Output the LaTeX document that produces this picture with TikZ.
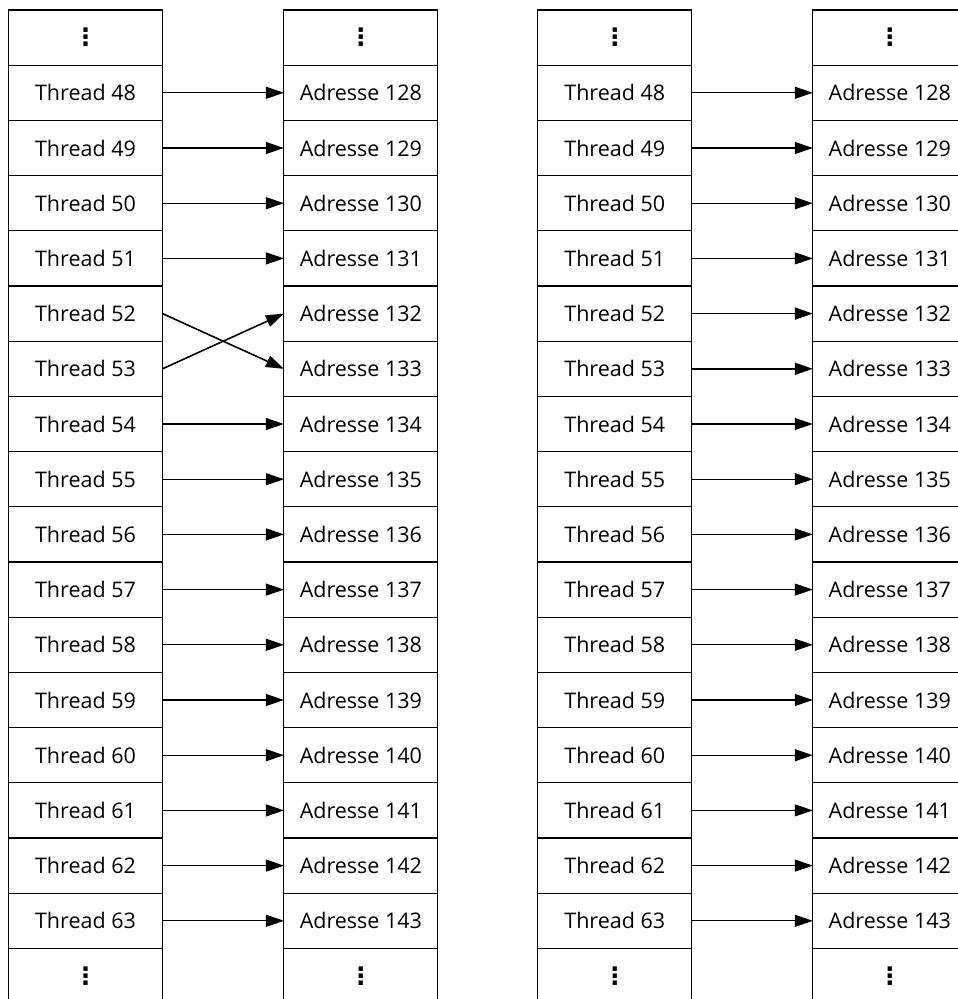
\documentclass[tikz,border=0pt]{standalone}
\usepackage{fontspec}
\setmainfont{Open Sans}
\newfontfamily\symfont{DejaVu Sans}
\usetikzlibrary{positioning,arrows.meta}

\newcommand{\gap}{{\symfont\bfseries\fontsize{24}{28}\selectfont ⋮}}

\begin{document}
\begin{tikzpicture}[
		cell/.style={draw,rectangle,minimum width=154pt,minimum height=55.2pt,
		inner sep=0pt,outer sep=0pt,line width=1.1pt,font=\fontsize{21.5}{25}\selectfont},
		map/.style={-{Triangle[length=18pt,width=12pt]},line width=1.1pt},
		swapmap/.style={map,line width=1.6pt}
		]
		\useasboundingbox (0,0) rectangle (958pt,-999pt);
		\clip (0,0) rectangle (958pt,-999pt);

		% threads and addresses, left pair
		\node[cell](thtop) at (85.5pt,-37.6pt){\gap};
		\node[cell](adtop) at (360.9pt,-37.6pt){\gap};
		\foreach \i [remember=\i as \j (initially top), evaluate=\i as \a using int(\i+80)] in {48,...,63}{
			\node[cell, below=0pt of th\j](th\i){Thread \i};
			\node[cell, below=0pt of ad\j](ad\i){Adresse \a};
		}
		\node[cell, below=0pt of th63](thbot){\gap};
		\node[cell, below=0pt of ad63](adbot){\gap};

		\foreach \i in {48,...,51}
			\draw[map] (th\i.east) -- (ad\i.west);
		\foreach \i in {54,...,63}
			\draw[map] (th\i.east) -- (ad\i.west);
		\draw[swapmap] (th52.east) -- (ad53.west);
		\draw[swapmap] (th53.east) -- (ad52.west);

		% threads and addresses, right pair
		\node[cell](rthtop) at (614.8pt,-37.6pt){\gap};
		\node[cell](radtop) at (889.8pt,-37.6pt){\gap};
		\foreach \i [remember=\i as \j (initially top), evaluate=\i as \a using int(\i+80)] in {48,...,63}{
			\node[cell, below=0pt of rth\j](rth\i){Thread \i};
			\node[cell, below=0pt of rad\j](rad\i){Adresse \a};
		}
		\node[cell, below=0pt of rth63](rthbot){\gap};
		\node[cell, below=0pt of rad63](radbot){\gap};

		\foreach \i in {48,...,51}
			\draw[map] (rth\i.east) -- (rad\i.west);
		\foreach \i in {54,...,63}
			\draw[map] (rth\i.east) -- (rad\i.west);
		\draw[swapmap] (rth52.east) -- (rad52.west);
		\draw[swapmap] (rth53.east) -- (rad53.west);
	\end{tikzpicture}
\end{document}
